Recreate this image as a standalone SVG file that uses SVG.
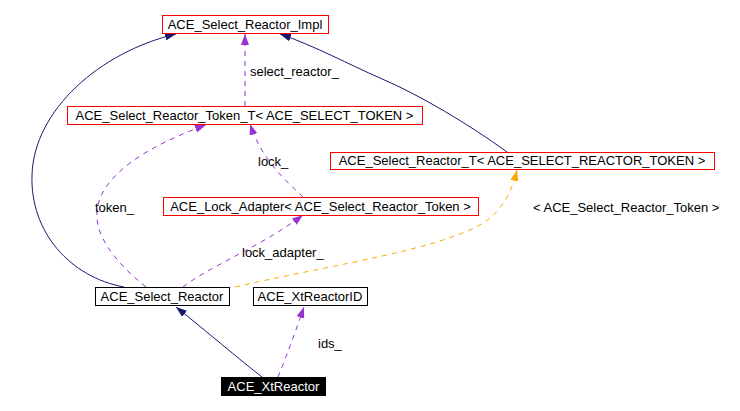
<svg xmlns="http://www.w3.org/2000/svg" width="740" height="411" viewBox="0 0 740 411">
<style>
text{font-family:"Liberation Sans",Arial,sans-serif;font-size:13px;fill:#000}
.n{text-anchor:middle}
.box{fill:#fff;stroke:#ff0000;stroke-width:1}
.bbox{fill:#fff;stroke:#000;stroke-width:1}
.e{fill:none;stroke-width:1}
.inh{stroke:#191970}
.use{stroke:#9a32cd;stroke-dasharray:5,5}
.tpl{stroke:#ffa500;stroke-dasharray:5,5}
</style>
<defs>
<marker id="aN" markerUnits="userSpaceOnUse" markerWidth="12" markerHeight="8" refX="11" refY="4" orient="auto"><path d="M0,0 L11,4 L0,8 z" fill="#191970"/></marker>
<marker id="aP" markerUnits="userSpaceOnUse" markerWidth="12" markerHeight="8" refX="11" refY="4" orient="auto"><path d="M0,0 L11,4 L0,8 z" fill="#9a32cd"/></marker>
<marker id="aO" markerUnits="userSpaceOnUse" markerWidth="12" markerHeight="8" refX="11" refY="4" orient="auto"><path d="M0,0 L11,4 L0,8 z" fill="#ffa500"/></marker>
</defs>
<rect width="740" height="411" fill="#fff"/>
<g id="edges">
<path class="e inh" d="M124,287 C70,277 30,232 32,175 C34,110 100,52 176,34" marker-end="url(#aN)"/>
<path class="e inh" d="M507,152 C470,125 420,95 380,78 C350,65 315,46 280,34" marker-end="url(#aN)"/>
<path class="e use" d="M245,106 L245,34" marker-end="url(#aP)"/>
<path class="e use" d="M303,197 C285,180 262,160 250,124" marker-end="url(#aP)"/>
<path class="e use" d="M146,287 C115,262 95,236 97,212 C99,175 150,145 206,125" marker-end="url(#aP)"/>
<path class="e use" d="M183,287 C210,266 262,246 303,215" marker-end="url(#aP)"/>
<path class="e tpl" d="M235,287 C330,265 440,250 485,222 C505,207 512,190 517,170" marker-end="url(#aO)"/>
<path class="e inh" d="M262,377 C240,360 205,330 176,307" marker-end="url(#aN)"/>
<path class="e use" d="M278,377 C287,355 296,330 304,307" marker-end="url(#aP)"/>
<text x="250" y="76">select_reactor_</text>
<text x="258" y="165.5">lock_</text>
<text x="95" y="211.5">token_</text>
<text x="242" y="256.5">lock_adapter_</text>
<text x="318" y="347.5">ids_</text>
<text x="533" y="211.5">&lt; ACE_Select_Reactor_Token &gt;</text>
</g>
<g id="impl"><rect class="box" x="162.5" y="15.5" width="166" height="18"/><text class="n" x="245" y="28.5">ACE_Select_Reactor_Impl</text></g>
<g id="tokenT"><rect class="box" x="67.5" y="106.5" width="355" height="18"/><text class="n" x="244.5" y="119.5">ACE_Select_Reactor_Token_T&lt; ACE_SELECT_TOKEN &gt;</text></g>
<g id="reactorT"><rect class="box" x="330.5" y="152.5" width="384" height="17"/><text class="n" x="522" y="165">ACE_Select_Reactor_T&lt; ACE_SELECT_REACTOR_TOKEN &gt;</text></g>
<g id="lockAdapter"><rect class="box" x="163.5" y="197.5" width="315" height="18"/><text class="n" x="320.5" y="210.5">ACE_Lock_Adapter&lt; ACE_Select_Reactor_Token &gt;</text></g>
<g id="selectReactor"><rect class="bbox" x="95.5" y="287.5" width="134" height="18"/><text class="n" x="162" y="300.5">ACE_Select_Reactor</text></g>
<g id="xtReactorID"><rect class="bbox" x="253.5" y="287.5" width="114" height="18"/><text class="n" x="310" y="300.5">ACE_XtReactorID</text></g>
<g id="xtReactor"><rect x="221" y="377" width="105" height="19" fill="#000"/><text class="n" x="273.5" y="391" style="fill:#fff">ACE_XtReactor</text></g>
</svg>
